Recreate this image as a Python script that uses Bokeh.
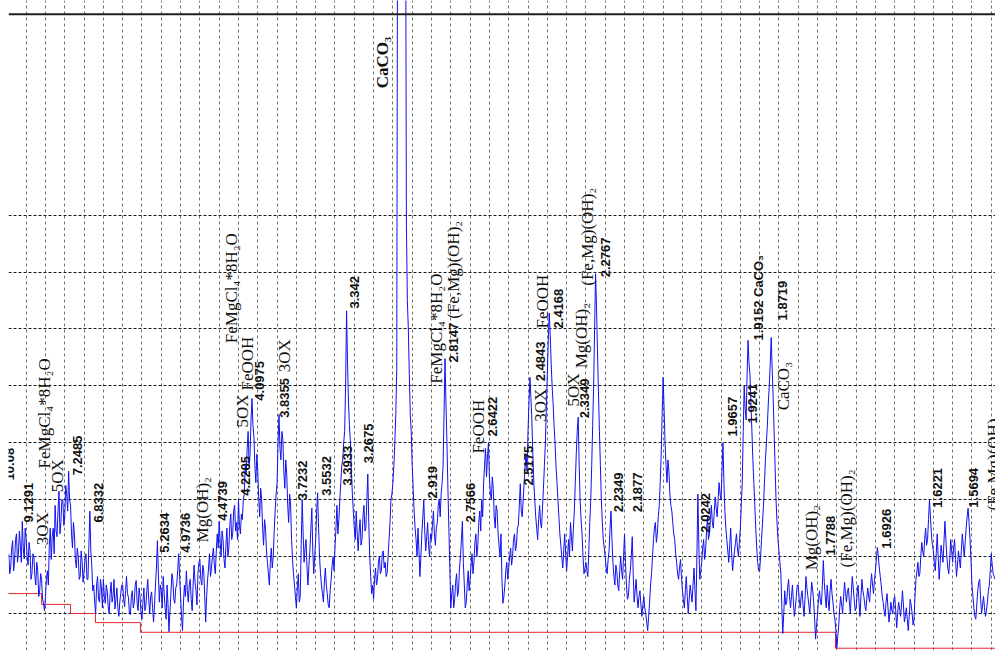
import math
from bokeh.plotting import figure
from bokeh.models import Span, FixedTicker, ColumnDataSource, Range1d
from bokeh.core.properties import value
from bokeh.embed import file_html
from bokeh.resources import INLINE

# ---------------- data ----------------
# XRD pattern: intensity read every 0.05 deg 2-theta, starting at 9.1 deg
theta_start = 9.1
theta_step = 0.05
intensity = [
    205, 170, 182, 215, 228, 175, 192, 230, 240, 190, 206, 245, 218, 190, 262, 215, 196, 250,
    232, 200, 185, 225, 210, 160, 170, 205, 200, 165, 150, 190, 175, 130, 140, 170, 160, 125, 118, 105,
    130, 160, 175, 150, 220, 250, 195, 235, 250, 205, 290, 245, 235, 280, 315, 240, 260, 300, 300, 255,
    270, 325, 310, 280, 350, 300, 290, 240, 215, 260, 240, 195, 180, 215, 200, 160, 165, 210, 190, 155,
    175, 195, 205, 160, 160, 220, 280, 210, 185, 140, 150, 120, 100, 150, 165, 125, 120, 160, 145, 110,
    160, 130, 118, 150, 140, 112, 100, 135, 155, 120, 130, 160, 108, 125, 145, 110, 95, 120, 135, 150,
    150, 125, 112, 140, 165, 135, 128, 100, 98, 130, 140, 110, 120, 150, 158, 118, 105, 145, 130, 100,
    90, 120, 145, 105, 112, 140, 160, 125, 100, 130, 138, 110, 85, 115, 150, 180, 228, 170, 120, 150,
    140, 110, 165, 135, 110, 90, 150, 115, 68, 105, 135, 170, 160, 125, 118, 145, 150, 175, 205, 165,
    130, 95, 70, 120, 150, 130, 175, 140, 120, 150, 160, 125, 105, 150, 185, 155, 140, 115, 170, 190,
    195, 160, 150, 185, 175, 130, 85, 130, 160, 180, 205, 165, 180, 200, 215, 185, 170, 210, 240, 215,
    262, 225, 200, 245, 230, 195, 180, 220, 250, 200, 215, 255, 275, 230, 240, 280, 290, 245, 260, 230,
    300, 255, 240, 275, 265, 300, 310, 360, 345, 390, 420, 360, 380, 440, 478, 430, 410, 360, 330, 380,
    350, 300, 270, 320, 300, 250, 220, 265, 250, 210, 190, 170, 150, 190, 215, 180, 200, 245, 280, 310,
    330, 400, 450, 390, 370, 420, 405, 350, 320, 370, 345, 290, 260, 310, 290, 230, 195, 170, 150, 130,
    110, 145, 170, 120, 130, 220, 300, 240, 190, 215, 230, 180, 150, 185, 210, 250, 285, 210, 170, 200,
    230, 280, 312, 250, 200, 170, 150, 135, 120, 155, 180, 150, 135, 115, 110, 140, 160, 185, 200, 175,
    215, 250, 290, 240, 265, 300, 330, 360, 370, 400, 420, 500, 632, 540, 470, 430, 400, 350, 310, 280,
    250, 230, 280, 240, 210, 245, 265, 220, 230, 270, 290, 245, 250, 300, 345, 260, 200, 165, 135, 150,
    125, 160, 180, 150, 160, 190, 200, 170, 175, 205, 210, 180, 190, 165, 170, 200, 230, 260, 300, 310,
    330, 360, 400, 450, 530, 1500, 1500, 1500, 1500, 1500, 1500, 1500, 1500, 1500, 780, 650, 600, 520, 450, 420,
    360, 320, 280, 250, 230, 200, 250, 210, 165, 200, 240, 270, 300, 245, 210, 235, 260, 220, 200, 240,
    230, 255, 280, 240, 220, 250, 260, 290, 300, 270, 310, 330, 360, 450, 548, 470, 400, 320, 250, 180,
    110, 135, 150, 110, 125, 155, 170, 130, 140, 180, 200, 230, 262, 190, 150, 110, 120, 150, 175, 140,
    160, 185, 205, 170, 190, 225, 240, 200, 220, 260, 280, 245, 300, 270, 330, 360, 390, 340, 375, 400,
    340, 310, 300, 340, 320, 270, 250, 290, 280, 240, 220, 200, 240, 160, 118, 130, 150, 175, 190, 160,
    180, 200, 215, 185, 200, 230, 240, 210, 220, 250, 255, 290, 328, 280, 270, 300, 330, 360, 380, 350,
    420, 470, 515, 480, 440, 380, 330, 300, 270, 250, 230, 265, 290, 260, 250, 285, 320, 360, 400, 460,
    520, 580, 628, 590, 540, 500, 470, 430, 400, 360, 330, 300, 270, 240, 220, 200, 180, 210, 240, 205,
    175, 200, 230, 200, 260, 235, 210, 250, 280, 330, 380, 420, 445, 360, 300, 265, 240, 200, 170, 180,
    190, 175, 165, 210, 260, 300, 360, 430, 500, 600, 697, 640, 560, 490, 420, 360, 300, 260, 230, 215,
    200, 180, 170, 195, 210, 250, 280, 230, 190, 165, 150, 185, 175, 150, 140, 175, 200, 175, 160, 200,
    240, 190, 150, 125, 130, 160, 175, 200, 235, 170, 120, 140, 160, 130, 110, 130, 140, 115, 95, 115,
    130, 110, 100, 85, 70, 95, 120, 150, 170, 200, 230, 250, 260, 225, 240, 270, 290, 330, 380, 450,
    515, 460, 400, 360, 330, 370, 350, 310, 290, 280, 260, 240, 230, 205, 190, 170, 160, 180, 195, 165,
    140, 125, 110, 140, 165, 130, 100, 125, 150, 135, 120, 150, 180, 140, 105, 200, 310, 220, 160, 175,
    190, 215, 230, 195, 210, 245, 270, 230, 240, 265, 290, 260, 250, 280, 305, 285, 270, 300, 330, 310,
    300, 350, 400, 330, 280, 250, 230, 210, 190, 220, 250, 205, 175, 195, 210, 225, 240, 215, 200, 225,
    250, 290, 330, 420, 500, 460, 440, 520, 580, 540, 520, 470, 420, 370, 330, 290, 250, 215, 190, 175,
    175, 200, 230, 260, 290, 330, 370, 400, 430, 470, 500, 540, 585, 530, 480, 420, 360, 300, 260, 230,
    210, 190, 170, 110, 65, 100, 140, 115, 120, 145, 160, 130, 110, 130, 150, 120, 95, 110, 130, 150,
    150, 125, 110, 130, 140, 115, 95, 125, 165, 145, 130, 115, 100, 130, 155, 140, 120, 90, 55, 80,
    100, 125, 140, 120, 115, 150, 193, 155, 130, 110, 150, 125, 105, 140, 160, 135, 120, 100, 90, 70,
    40, 60, 80, 110, 130, 115, 100, 130, 155, 135, 120, 140, 145, 120, 100, 135, 165, 145, 125, 105,
    110, 135, 150, 120, 95, 130, 160, 140, 130, 115, 105, 125, 145, 130, 120, 150, 170, 150, 135, 160,
    175, 195, 216, 200, 180, 165, 150, 130, 120, 105, 95, 120, 135, 110, 85, 100, 120, 105, 100, 125,
    130, 105, 75, 100, 120, 110, 95, 115, 140, 115, 85, 95, 110, 90, 70, 95, 125, 115, 100, 80,
    90, 130, 160, 175, 190, 165, 170, 200, 225, 210, 200, 230, 250, 220, 230, 265, 300, 270, 240, 220,
    210, 190, 175, 205, 240, 200, 160, 185, 220, 205, 190, 225, 262, 230, 200, 180, 170, 195, 230, 210,
    190, 215, 230, 195, 165, 185, 210, 195, 180, 210, 240, 220, 200, 225, 250, 270, 285, 260, 230, 195,
    150, 130, 110, 95, 90, 115, 140, 155, 160, 125, 100, 115, 130, 110, 95, 105, 120, 140, 150, 175,
    205, 185, 170, 165, 160,
]
theta = [round(theta_start + i * theta_step, 3) for i in range(len(intensity))]

# background (red step line)
bg_theta = [9.0, 10.8, 12.3, 13.59, 15.92, 51.93, 60.4]
bg_level = [135, 116, 100, 84, 67, 39, 39]

# d-spacing labels (bold sans)
num_labels = ["10.08", "9.1291", "7.2485", "6.8332", "5.2634", "4.9736", "4.4739",
              "4.2205", "4.0975", "3.8355", "3.7232", "3.5532", "3.3933", "3.342",
              "3.2675", "2.919", "2.8147", "2.7566", "2.6422", "2.5175", "2.4843",
              "2.4168", "2.3349", "2.2767", "2.2349", "2.1877", "2.0242", "1.9657",
              "1.9241", "1.9152 CaCO\u2083", "1.8719", "1.7788", "1.6926", "1.6221", "1.5694"]
num_theta = [9.13, 10.12, 12.66, 13.75, 17.17, 18.26, 20.17, 21.37, 22.09, 23.39,
             24.32, 25.56, 26.65, 27.01, 27.74, 31.05, 32.14, 33.02, 34.16, 36.03,
             36.65, 37.58, 38.93, 40.02, 40.69, 41.68, 45.20, 46.60, 47.63, 47.95,
             49.19, 51.68, 54.58, 57.22, 59.09]
num_level = [334, 260, 343, 260, 207, 207, 263, 307, 474, 444,
             299, 307, 325, 636, 364, 302, 541, 260, 411, 325,
             508, 601, 443, 691, 278, 278, 242, 411, 434, 580,
             615, 202, 214, 286, 286]

# phase labels (serif)
phase_labels = ["3OX", "FeMgCl\u2084*8H\u2082O", "5OX", "Mg(OH)\u2082", "5OX", "FeOOH",
                "FeMgCl\u2084*8H\u2082O", "3OX", "FeMgCl\u2084*8H\u2082O", "(Fe,Mg)(OH)\u2082",
                "FeOOH", "3OX", "FeOOH", "5OX", "Mg(OH)\u2082", "(Fe,Mg)(OH)\u2082",
                "CaCO\u2083", "Mg(OH)\u2082", "(Fe,Mg)(OH)\u2082", "(Fe,Mg)(OH)\u2082"]
phase_theta = [10.85, 10.95, 11.62, 19.14, 21.21, 21.47, 20.64, 23.39, 31.26, 32.14,
               33.44, 36.65, 36.75, 38.36, 38.77, 39.09, 49.24, 50.69, 52.50, 60.12]
phase_level = [220, 355, 313, 225, 427, 492, 575, 524, 504, 618,
               381, 437, 601, 464, 531, 676, 457, 176, 181, 281]

# main peak label (bold serif)
main_labels = ["CaCO\u2083"]
main_theta = [28.46]
main_level = [1023]

grid_theta = list(range(10, 61))
grid_level = [100, 200, 300, 400, 500, 600, 700, 800]
top_level = 1153

# ---------------- figure ----------------
p = figure(width=995, height=650, x_range=Range1d(9.085, 60.22),
           y_range=Range1d(35.0, 1177.3), output_backend="svg",
           toolbar_location=None, x_axis_location=None, y_axis_location=None,
           min_border=0, min_border_left=8)
p.outline_line_color = None
p.background_fill_color = "white"
p.border_fill_color = "white"

p.xgrid.ticker = FixedTicker(ticks=grid_theta)
p.xgrid.grid_line_color = "#707070"
p.xgrid.grid_line_dash = "3 3"
p.xgrid.grid_line_width = 1
p.ygrid.ticker = FixedTicker(ticks=grid_level)
p.ygrid.grid_line_color = "#1a1a1a"
p.ygrid.grid_line_dash = "3 2"
p.ygrid.grid_line_width = 1

p.add_layout(Span(location=top_level, dimension="width",
                  line_color="#202020", line_width=2))

p.step(bg_theta, bg_level, mode="after", line_color="#e3262b", line_width=1)
p.line(theta, intensity, line_color="#1010f0", line_width=1)

src_num = ColumnDataSource(dict(x=num_theta, y=num_level, t=num_labels))
p.text("x", "y", "t", source=src_num, angle=math.pi / 2,
       text_font=value("Liberation Sans"), text_font_style="bold",
       text_font_size="13px", text_align="left", text_baseline="middle",
       text_color="#111111")

src_phase = ColumnDataSource(dict(x=phase_theta, y=phase_level, t=phase_labels))
p.text("x", "y", "t", source=src_phase, angle=math.pi / 2,
       text_font=value("Liberation Serif"), text_font_size="17px",
       text_align="left", text_baseline="middle", text_color="#111111")

src_main = ColumnDataSource(dict(x=main_theta, y=main_level, t=main_labels))
p.text("x", "y", "t", source=src_main, angle=math.pi / 2,
       text_font=value("Liberation Serif"), text_font_style="bold",
       text_font_size="17px", text_align="left", text_baseline="middle",
       text_color="#111111")

open("out.html", "w").write(file_html(p, INLINE))
